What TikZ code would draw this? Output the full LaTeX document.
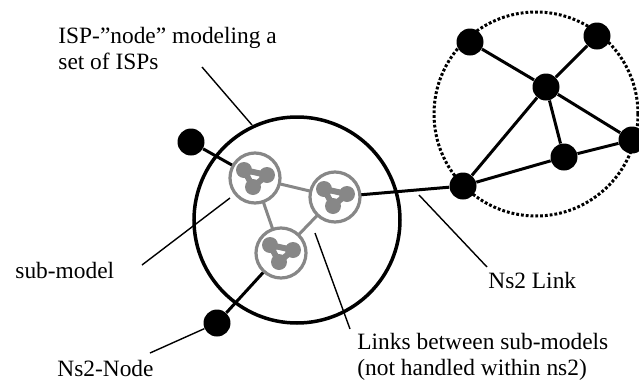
\documentclass[tikz,border=0pt]{standalone}
\usepackage{fontspec}
\setmainfont{Liberation Serif}
\usepackage{xcolor}
\usetikzlibrary{positioning}

\definecolor{subgray}{gray}{0.53}

\tikzset{
  ns2node/.style={circle,fill=black,inner sep=0pt,minimum size=13.5pt},
  ispnode/.style={circle,draw,line width=1.75pt,inner sep=0pt,minimum size=103pt},
  netcloud/.style={circle,draw,line width=1.5pt,dash pattern=on 1.4pt off 1pt,inner sep=0pt,minimum size=102pt},
  submodel/.style={circle,draw=subgray,line width=1.6pt,fill=white,inner sep=0pt,minimum size=25pt},
  subdot/.style={circle,fill=subgray,inner sep=0pt,minimum size=8pt},
  ns2link/.style={line width=1.5pt},
  sublink/.style={subgray,line width=1.5pt},
  leader/.style={line width=0.7pt},
  txt/.style={anchor=north west,inner sep=0pt,align=left,font=\fontsize{11.7}{12.8}\selectfont}
}

\begin{document}
\begin{tikzpicture}[x=0.5pt,y=-0.5pt]
\useasboundingbox (0,0) rectangle (639,381);

% the ISP-node and the plain ns2 network next to it
\node[ispnode] (isp) at (297,220) {};
\node[netcloud] (cloud) at (536,114) {};

\node[ns2node] (n1) at (470,42) {};
\node[ns2node] (n2) at (597,36) {};
\node[ns2node] (n3) at (546,87) {};
\node[ns2node] (n4) at (632,140) {};
\node[ns2node] (n5) at (564,157) {};
\node[ns2node] (n6) at (463,186) {};
\draw[ns2link] (n1)--(n3) (n2)--(n3) (n3)--(n4) (n3)--(n5) (n3)--(n6) (n6)--(n5) (n5)--(n4);

\node[ns2node] (a) at (191,142) {};
\node[ns2node] (b) at (217,323) {};

% sub-models inside the ISP-node
\coordinate (p1) at (255,178);
\coordinate (p2) at (335,197);
\coordinate (p3) at (281,253);
\draw[ns2link] (a)--(p1) (b)--(p3) (p2)--(n6);
\draw[sublink] (p1)--(p2) (p1)--(p3) (p2)--(p3);
\foreach \s in {1,2,3} {
  \node[submodel] (s\s) at (p\s) {};
  \begin{scope}[shift={(p\s)}]
    \node[subdot] (s\s a) at (-11,-8) {};
    \node[subdot] (s\s b) at (12,-3) {};
    \node[subdot] (s\s c) at (-2,9) {};
    \draw[subgray,line width=3pt,line join=round] (s\s a.center)--(s\s b.center)--(s\s c.center)--cycle;
  \end{scope}
}

% labels and their leader lines
\node[txt] (isptext) at (58,27) {ISP-”node” modeling a\\set of ISPs};
\coordinate (ispfrom) at (202,67);
\coordinate (ispto) at (252,125);
\draw[leader] (ispfrom)--(ispto);

\node[txt] (subtext) at (15,262) {sub-model};
\coordinate (subfrom) at (142,265);
\coordinate (subto) at (230,198);
\draw[leader] (subfrom)--(subto);

\node[txt] (nodetext) at (57,360) {Ns2-Node};
\coordinate (nodefrom) at (150,353);
\draw[leader] (nodefrom)--(b);

\node[txt] (linkstext) at (357,333) {Links between sub-models\\(not handled within ns2)};
\coordinate (linksfrom) at (350,329);
\coordinate (linksto) at (315,233);
\draw[leader] (linksfrom)--(linksto);

\node[txt] (linktext) at (488,272) {Ns2 Link};
\coordinate (linkfrom) at (487,267);
\coordinate (linkto) at (419,195);
\draw[leader] (linkfrom)--(linkto);
\end{tikzpicture}
\end{document}
